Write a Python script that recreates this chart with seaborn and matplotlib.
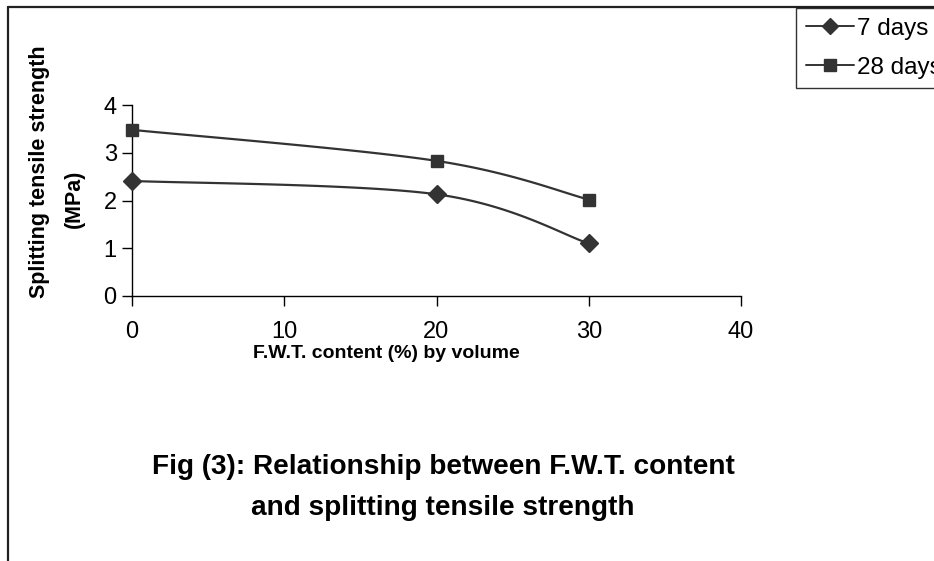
import numpy as np
import pandas as pd
import matplotlib
matplotlib.use("Agg")
import matplotlib.pyplot as plt
from matplotlib.lines import Line2D
import seaborn as sns

# F.W.T. content (% by volume) and splitting tensile strength (MPa)
fwt_content = [0, 20, 30]
strength_7_days = [2.41, 2.13, 1.10]
strength_28_days = [3.48, 2.83, 2.02]
series_names = ["7 days", "28 days"]
x_ticks = [0, 10, 20, 30, 40]
y_ticks = [0, 1, 2, 3, 4]

sns.set_theme(style="white")
plt.rcParams["font.family"] = ["Liberation Sans", "DejaVu Sans"]
plt.rcParams["text.color"] = "black"

INK = "#333333"


def smooth_curve(x, y, steps=40):
    """Cubic Bezier smoothing through the points (spreadsheet-style smoothed line)."""
    pts = np.column_stack([x, y]).astype(float)
    n = len(pts)
    out = [pts[:1]]
    for i in range(n - 1):
        p0 = pts[i - 1] if i > 0 else pts[i]
        p1 = pts[i]
        p2 = pts[i + 1]
        p3 = pts[i + 2] if i + 2 < n else pts[i + 1]
        c1 = p1 + (p2 - p0) / 6.0
        c2 = p2 - (p3 - p1) / 6.0
        t = np.linspace(0, 1, steps)[1:, None]
        seg = ((1 - t) ** 3) * p1 + 3 * ((1 - t) ** 2) * t * c1 + 3 * (1 - t) * t ** 2 * c2 + t ** 3 * p2
        out.append(seg)
    curve = np.vstack(out)
    return curve[:, 0], curve[:, 1]


points = pd.DataFrame({
    "content": fwt_content * 2,
    "strength": strength_7_days + strength_28_days,
    "age": [series_names[0]] * 3 + [series_names[1]] * 3,
})

fig = plt.figure(figsize=(9.34, 5.61), dpi=100)
ax = fig.add_axes([132 / 934, 1 - 296 / 561, (741 - 132) / 934, (296 - 105) / 561])

markers = {series_names[0]: "D", series_names[1]: "s"}
sizes = {series_names[0]: 9, series_names[1]: 9}

curves = []
for name in series_names:
    sub = points[points["age"] == name]
    cx, cy = smooth_curve(sub["content"].to_numpy(), sub["strength"].to_numpy())
    curves.append(pd.DataFrame({"content": cx, "strength": cy, "age": name}))
curve_df = pd.concat(curves, ignore_index=True)

sns.lineplot(data=curve_df, x="content", y="strength", hue="age",
             palette={n: INK for n in series_names}, sort=False, estimator=None,
             linewidth=1.6, legend=False, ax=ax)
for name in series_names:
    sub = points[points["age"] == name]
    ax.plot(sub["content"], sub["strength"], linestyle="none", marker=markers[name],
            markersize=sizes[name], color=INK, markeredgecolor=INK, zorder=3,
            clip_on=False)

ax.set_xlim(0, 40)
ax.set_ylim(0, 4)
ax.set_xticks(x_ticks)
ax.set_yticks(y_ticks)
ax.set_xticklabels([str(v) for v in x_ticks])
ax.set_yticklabels([str(v) for v in y_ticks])
ax.tick_params(axis="both", which="major", direction="out", length=7, width=1,
               color="black", labelsize=17, labelcolor="black", bottom=True, left=True)
ax.tick_params(axis="y", pad=4)
ax.tick_params(axis="x", pad=11)
for side in ["top", "right"]:
    ax.spines[side].set_visible(False)
for side in ["left", "bottom"]:
    ax.spines[side].set_color("black")
    ax.spines[side].set_linewidth(1.0)
ax.set_xlabel("")
ax.set_ylabel("")
ax.set_facecolor("white")

fig.text(386 / 934, 1 - 353 / 561, "F.W.T. content (%) by volume", ha="center", va="center",
         fontsize=14, fontweight="bold", color="black")
fig.text(40 / 934, 1 - 172 / 561, "Splitting tensile strength", rotation=90, ha="center",
         va="center", fontsize=15.5, fontweight="bold", color="black")
fig.text(74 / 934, 1 - 199 / 561, "(MPa)", rotation=90, ha="center",
         va="center", fontsize=15.5, fontweight="bold", color="black")

fig.text(443 / 934, 1 - 467 / 561, "Fig (3): Relationship between F.W.T. content",
         ha="center", va="center", fontsize=20.2, fontweight="bold", color="black")
fig.text(443 / 934, 1 - 508 / 561, "and splitting tensile strength",
         ha="center", va="center", fontsize=20.2, fontweight="bold", color="black")

handles = [Line2D([], [], color=INK, linewidth=1.4, marker=markers[n], markersize=8,
                  markerfacecolor=INK, markeredgecolor=INK) for n in series_names]
leg = fig.legend(handles, series_names, loc="upper left",
                 bbox_to_anchor=(796 / 934, 1 - 8 / 561), frameon=True, fancybox=False,
                 fontsize=17.5, handlelength=2.0, handletextpad=0.1, borderpad=0.4,
                 labelspacing=0.7, borderaxespad=0)
leg.get_frame().set_edgecolor("black")
leg.get_frame().set_linewidth(1.0)
for txt in leg.get_texts():
    txt.set_color("black")

# figure frame along the top and left edges
fig.add_artist(Line2D([8 / 934, 8 / 934], [0, 1 - 7 / 561], transform=fig.transFigure,
                      color="#222222", linewidth=1.6))
fig.add_artist(Line2D([8 / 934, 1], [1 - 7 / 561, 1 - 7 / 561], transform=fig.transFigure,
                      color="#222222", linewidth=1.6))

fig.savefig("out.png", dpi=100, facecolor="white")
